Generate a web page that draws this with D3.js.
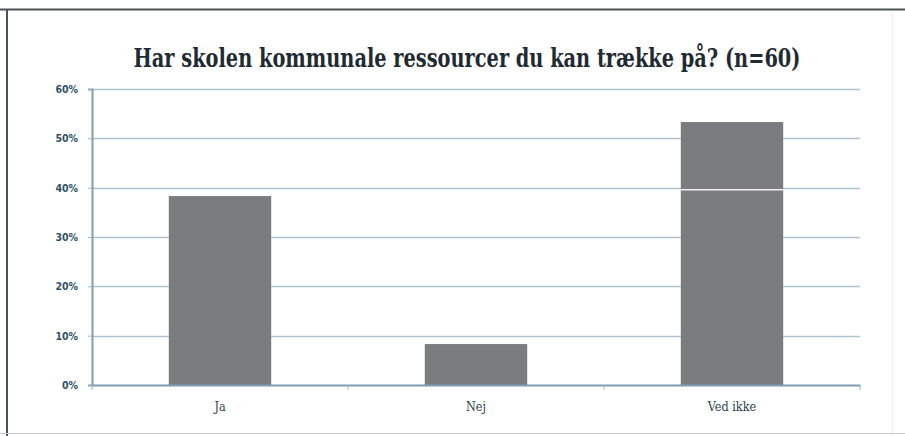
<!DOCTYPE html>
<html>
<head>
<meta charset="utf-8">
<script src="https://cdn.jsdelivr.net/npm/d3@7"></script>
<style>
  body { margin: 0; background: #ffffff; }
  svg { display: block; }
</style>
</head>
<body>
<div class="bar-chart"></div>
<script>
const width = 905;
const height = 436;

// data
const categories = ["Ja", "Nej", "Ved ikke"];
const shares = [0.383, 0.083, 0.533];
const yTicks = [0, 0.1, 0.2, 0.3, 0.4, 0.5, 0.6];
const title = "Har skolen kommunale ressourcer du kan trække på? (n=60)";

const margin = { top: 89, right: 45, bottom: 51, left: 92 };

const svg = d3
    .select(".bar-chart")
    .append("svg")
    .attr("width", width)
    .attr("height", height);

// outer frame
svg.append("line")
    .attr("x1", 0).attr("x2", width)
    .attr("y1", 9.5).attr("y2", 9.5)
    .attr("stroke", "#4a5357").attr("stroke-width", 2);
svg.append("line")
    .attr("x1", 7).attr("x2", 7)
    .attr("y1", 9).attr("y2", height)
    .attr("stroke", "#4a5357").attr("stroke-width", 2);
svg.append("line")
    .attr("x1", 0).attr("x2", width)
    .attr("y1", 433.5).attr("y2", 433.5)
    .attr("stroke", "#c9c9c9").attr("stroke-width", 1);
svg.append("line")
    .attr("x1", 892.5).attr("x2", 892.5)
    .attr("y1", 12).attr("y2", 433)
    .attr("stroke", "#f1ebe8").attr("stroke-width", 1);

const x = d3
    .scaleBand()
    .domain(categories)
    .range([margin.left, width - margin.right])
    .paddingInner(0.6)
    .paddingOuter(0.3);

const y = d3
    .scaleLinear()
    .domain([0, 0.6])
    .range([height - margin.bottom, margin.top]);

// gridlines
svg.append("g")
    .selectAll("line")
    .data(yTicks.slice(1))
    .enter()
    .append("line")
    .attr("x1", margin.left)
    .attr("x2", width - margin.right)
    .attr("y1", (d) => Math.round(y(d)) + 0.5)
    .attr("y2", (d) => Math.round(y(d)) + 0.5)
    .attr("stroke", "#aec4d0")
    .attr("stroke-width", 1.5);

// bars
svg.append("g")
    .selectAll("rect")
    .data(categories)
    .enter()
    .append("rect")
    .attr("x", (d) => x(d))
    .attr("y", (d, i) => y(shares[i]))
    .attr("width", x.bandwidth())
    .attr("height", (d, i) => y(0) - y(shares[i]))
    .attr("fill", "#7b7c80");

// white streak across the last bar, as in the source scan
svg.append("line")
    .attr("x1", x("Ved ikke"))
    .attr("x2", x("Ved ikke") + x.bandwidth())
    .attr("y1", y(0.4) + 2)
    .attr("y2", y(0.4) + 2)
    .attr("stroke", "#f6efe9")
    .attr("stroke-width", 1.5);

// y axis
const yAxis = svg.append("g")
    .attr("transform", `translate(${margin.left},0)`)
    .call(d3.axisLeft(y).tickValues(yTicks).tickFormat(d3.format(".0%")).tickSize(4).tickPadding(10));
yAxis.select(".domain").attr("stroke", "#7f9cb0").attr("stroke-width", 2);
yAxis.selectAll(".tick line").attr("stroke", "#9fb6c4");
yAxis.selectAll(".tick text")
    .attr("fill", "#2f5268")
    .attr("font-family", "'DejaVu Sans Condensed', 'DejaVu Sans', sans-serif")
    .attr("font-weight", "bold")
    .attr("font-size", 10.5);

// x axis
const xAxis = svg.append("g")
    .attr("transform", `translate(0,${y(0)})`)
    .call(d3.axisBottom(x).tickSize(0).tickPadding(17));
xAxis.select(".domain").attr("stroke", "#7f9cb0").attr("stroke-width", 2);
xAxis.selectAll(".tick text")
    .attr("fill", "#2b3f4c")
    .attr("font-family", "'DejaVu Serif Condensed', 'DejaVu Serif', serif")
    .attr("font-size", 12.5);

// small ticks between categories
const bounds = d3.range(categories.length + 1).map((i) => margin.left + i * (width - margin.left - margin.right) / categories.length);
xAxis.selectAll(".sep")
    .data(bounds)
    .enter()
    .append("line")
    .attr("class", "sep")
    .attr("x1", (d) => d).attr("x2", (d) => d)
    .attr("y1", 0).attr("y2", 5)
    .attr("stroke", "#9fb6c4");

// title: tall, narrow serif, squeezed to the width it has in the picture
const tg = svg.append("g");
const t = tg.append("text")
    .text(title)
    .attr("x", 0)
    .attr("y", 0)
    .attr("text-anchor", "middle")
    .attr("fill", "#1f2b33")
    .attr("font-family", "'DejaVu Serif Condensed', 'DejaVu Serif', serif")
    .attr("font-weight", "bold")
    .attr("font-size", 26);
const w = t.node().getComputedTextLength();
tg.attr("transform", `translate(467,67) scale(${667 / w},1)`);
</script>
</body>
</html>
